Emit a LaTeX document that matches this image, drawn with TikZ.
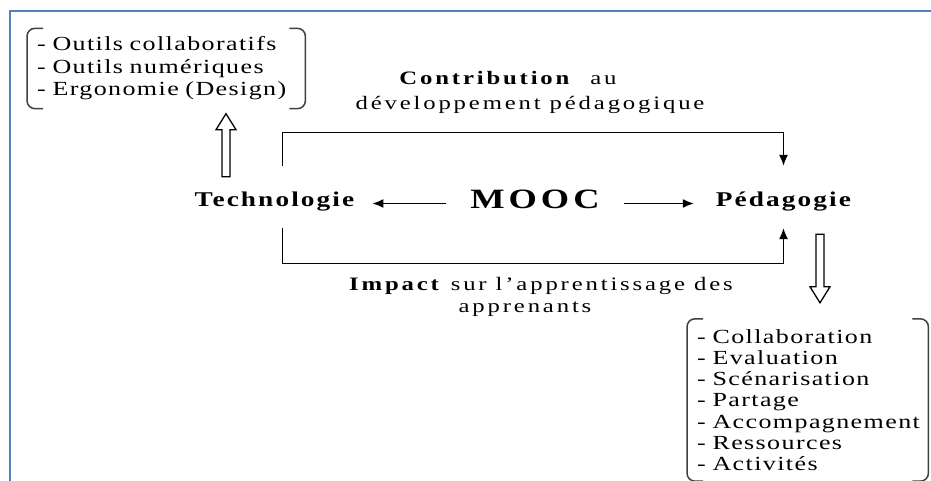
\documentclass[tikz,border=0pt]{standalone}
\usepackage{fontspec}
\setmainfont{Liberation Serif}
\newfontfamily\listfont{Liberation Serif}[FakeStretch=1.3,LetterSpace=7]
\newfontfamily\capfont{Liberation Serif}[FakeStretch=1.3,LetterSpace=15]
\newfontfamily\polefont{Liberation Serif}[FakeStretch=1.3,LetterSpace=10]
\newfontfamily\moocfont{Liberation Serif}[FakeStretch=1.3,LetterSpace=14]
\usetikzlibrary{arrows.meta,calc}
\definecolor{frameblue}{RGB}{79,129,189}
\tikzset{>={Latex[length=11pt,width=9pt]}}
\tikzset{
    pole/.style = {font=\polefont\bfseries\fontsize{21}{24}\selectfont,
        inner sep=0pt, anchor=base, text height=40pt, text depth=22pt},
    mooc/.style = {font=\moocfont\bfseries\fontsize{28}{30}\selectfont,
        inner sep=0pt, anchor=base, text height=12pt, text depth=3pt},
    caption/.style = {font=\capfont\fontsize{19}{22}\selectfont, inner sep=0pt},
    itemlist/.style = {font=\listfont\fontsize{20}{22.5}\selectfont,
        inner sep=0pt, align=left, anchor=west},
    link/.style = {draw, line width=1.3pt, ->},
    bracket/.style = {draw, line width=1.5pt, black!75, rounded corners=8pt},
    hollow/.style = {draw, line width=1.3pt, fill=white}
}
\newcommand{\hollowarrow}[3]{%
    \draw[hollow] ($(#1)+(-4,0)$) -- ($(#2)+(-4,#3)$) -- ($(#2)+(-10,#3)$)
        -- (#2) -- ($(#2)+(10,#3)$) -- ($(#2)+(4,#3)$) -- ($(#1)+(4,0)$) -- cycle;}

\begin{document}
\begin{tikzpicture}[x=1pt, y=-1pt]
    \useasboundingbox (0,0) rectangle (931,481);
    \fill[white] (0,0) rectangle (931,481);
    \draw[frameblue, line width=2.5pt] (10,490) -- (10,11) -- (940,11);

    \node [mooc] (mooc) at (535,208) {MOOC};
    \node [pole] (techno) at (274.5,206) {Technologie};
    \node [pole] (peda) at (783.5,206) {Pédagogie};

    \node [itemlist, text width=258pt, minimum height=80pt] (techlist) at (37,68.5)
        {- Outils collaboratifs\\- Outils numériques\\- Ergonomie (Design)};
    \node [itemlist, text width=221pt, minimum height=162pt,
        font=\listfont\fontsize{20}{21.2}\selectfont] (padlist) at (697,400)
        {- Collaboration\\- Evaluation\\- Scénarisation\\- Partage\\- Accompagnement\\- Ressources\\- Activités};

    \node [caption] (contriba) at (508,78) {\textbf{Contribution}\ \ au};
    \node [caption] (contribb) at (530,105) {développement pédagogique};
    \node [caption] (impacta) at (541,286) {\textbf{Impact} sur l’apprentissage des};
    \node [caption] (impactb) at (525,309) {apprenants};

    \draw [link, shorten <=24pt, shorten >=18pt] (mooc.west) -- (mooc.west -| techno.east);
    \draw [link, shorten <=24pt, shorten >=22pt] (mooc.east) -- (mooc.east -| peda.west);
    \draw [link] ([xshift=8pt]techno.north) -- ++(0,-33) -| (peda.north);
    \draw [link] ([xshift=8pt]techno.south) -- ++(0,35) -| (peda.south);

    \draw [bracket] ([xshift=6pt]techlist.north west) -- ([xshift=-10pt]techlist.north west)
        -- ([xshift=-10pt]techlist.south west) -- ([xshift=6pt]techlist.south west);
    \draw [bracket] ([xshift=-6pt]techlist.north east) -- ([xshift=10pt]techlist.north east)
        -- ([xshift=10pt]techlist.south east) -- ([xshift=-6pt]techlist.south east);
    \draw [bracket] ([xshift=6pt]padlist.north west) -- ([xshift=-10pt]padlist.north west)
        -- ([xshift=-10pt]padlist.south west) -- ([xshift=6pt]padlist.south west);
    \draw [bracket] ([xshift=-6pt]padlist.north east) -- ([xshift=10pt]padlist.north east)
        -- ([xshift=10pt]padlist.south east) -- ([xshift=-6pt]padlist.south east);

    \coordinate (techfoot) at ([xshift=-48.5pt,yshift=-11pt]techno.north);
    \coordinate (techtip) at ($(techfoot |- techlist.south)+(0,5)$);
    \hollowarrow{techfoot}{techtip}{16}
    \coordinate (pedafoot) at ([xshift=36.5pt,yshift=-6pt]peda.south);
    \coordinate (pedatip) at ($(pedafoot |- padlist.north)+(0,-16)$);
    \hollowarrow{pedafoot}{pedatip}{-16}
\end{tikzpicture}
\end{document}
